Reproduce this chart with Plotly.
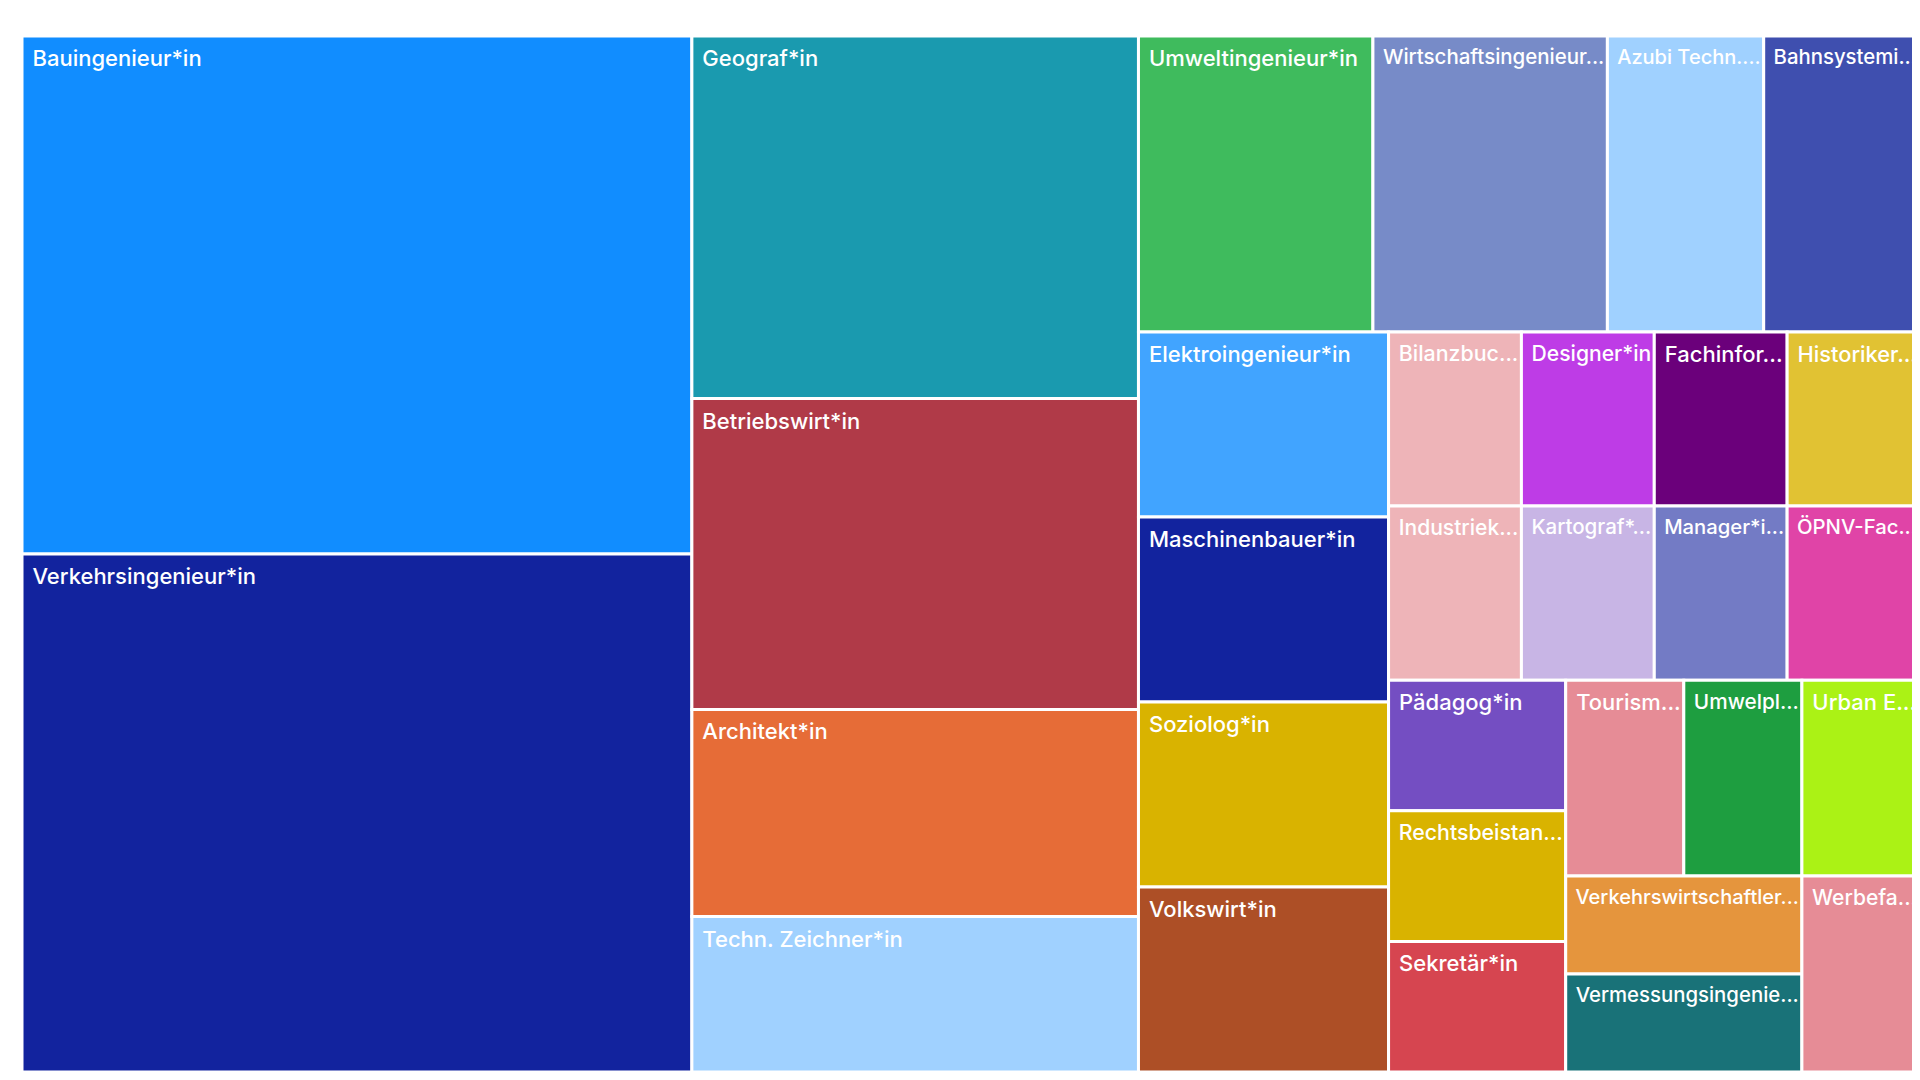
import plotly.graph_objects as go

labels = [
    "Bauingenieur*in", "Verkehrsingenieur*in", "Geograf*in", "Betriebswirt*in",
    "Architekt*in", "Techn. Zeichner*in", "Umweltingenieur*in", "Wirtschaftsingenieur...",
    "Azubi Techn....", "Bahnsystemi...", "Elektroingenieur*in", "Maschinenbauer*in",
    "Soziolog*in", "Volkswirt*in", "Bilanzbuc...", "Designer*in", "Fachinfor...",
    "Historiker...", "Industriek...", "Kartograf*...", "Manager*i...", "ÖPNV-Fac...",
    "Pädagog*in", "Rechtsbeistan...", "Sekretär*in", "Tourism...", "Umwelpl...",
    "Urban E...", "Verkehrswirtschaftler...", "Vermessungsingenie...", "Werbefa...",
]
values = [15, 15, 7, 6, 4, 3, 3, 3, 2, 2, 2, 2, 2, 2,
          1, 1, 1, 1, 1, 1, 1, 1, 1, 1, 1, 1, 1, 1, 1, 1, 1]
colors = [
    "#118DFF", "#12239E", "#1A9AAF", "#B03A48", "#E66C37", "#A0D1FF", "#3FBB5D",
    "#778BC8", "#A0D1FF", "#3F4FAF", "#41A4FF", "#12239E", "#D9B300", "#AD4F26",
    "#EEB4B8", "#BE3CE6", "#6B007B", "#E1C233", "#EEB4B8", "#C8B5E5", "#737BC5",
    "#E044A7", "#744EC2", "#D9B300", "#D64550", "#E68C96", "#1E9E40", "#ABF215",
    "#E5953D", "#197278", "#E68C96",
]

fig = go.Figure(go.Treemap(
    labels=labels,
    parents=[""] * len(labels),
    values=values,
    marker=dict(colors=colors, line=dict(color="white", width=3),
                pad=dict(t=0, l=0, r=0, b=0)),
    tiling=dict(pad=0, squarifyratio=1.618034),
    textposition="top left",
    textinfo="label",
    texttemplate="<span style='font-size:28px'>\u00a0</span>%{label}",
    textfont=dict(family="Inter", size=22, color="white", weight=500),
    pathbar=dict(visible=False),
    sort=True,
    hoverinfo="label+value",
))
fig.update_layout(
    width=1920, height=1080,
    margin=dict(l=14, r=8, t=28, b=16),
    paper_bgcolor="white",
)
fig.write_html("out.html")
